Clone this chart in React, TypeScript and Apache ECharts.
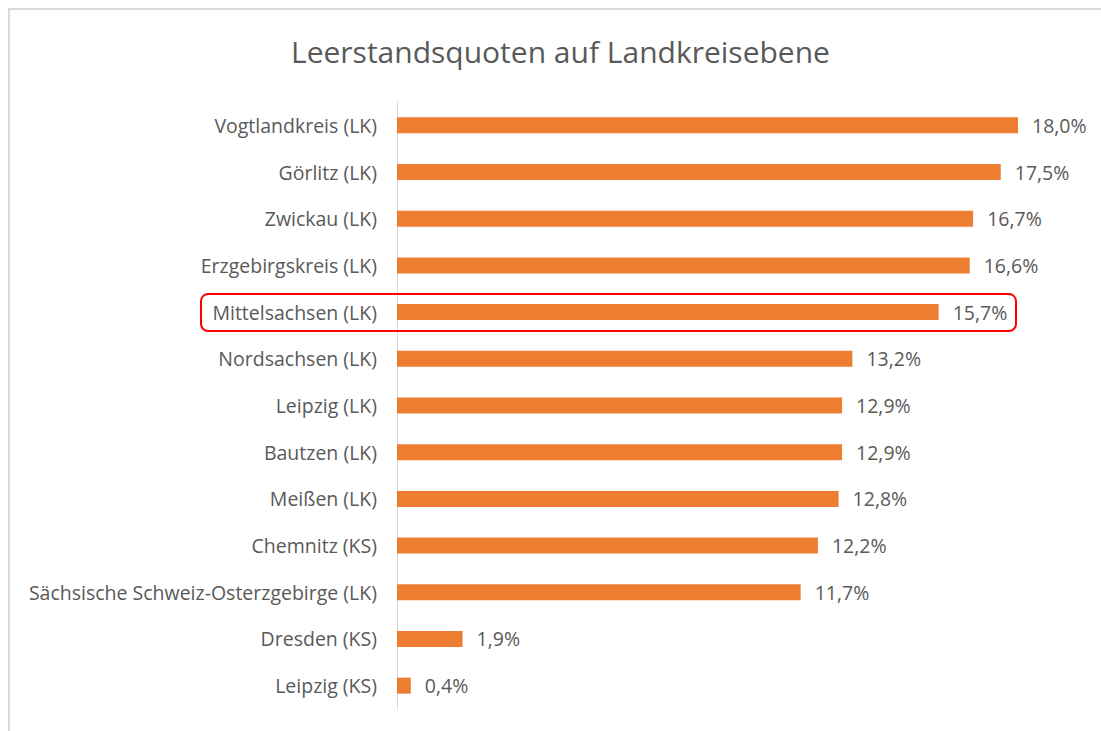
import React, { useEffect, useRef } from "react";
import * as echarts from "echarts";

const categories = [
  "Vogtlandkreis (LK)",
  "Görlitz (LK)",
  "Zwickau (LK)",
  "Erzgebirgskreis (LK)",
  "Mittelsachsen (LK)",
  "Nordsachsen (LK)",
  "Leipzig (LK)",
  "Bautzen (LK)",
  "Meißen (LK)",
  "Chemnitz (KS)",
  "Sächsische Schweiz-Osterzgebirge (LK)",
  "Dresden (KS)",
  "Leipzig (KS)",
];
const values = [18.0, 17.5, 16.7, 16.6, 15.7, 13.2, 12.9, 12.9, 12.8, 12.2, 11.7, 1.9, 0.4];
const highlighted = "Mittelsachsen (LK)";
const title = "Leerstandsquoten auf Landkreisebene";

const FONT = "Open Sans";
const TEXT = "#595959";

export default function App() {
  const ref = useRef<HTMLDivElement>(null);
  useEffect(() => {
    if (!ref.current) return;
    const chart = echarts.init(ref.current, null, { renderer: "svg" });
    chart.setOption({
      animation: false,
      backgroundColor: "#ffffff",
      title: {
        text: title,
        left: 286,
        top: 31,
        textStyle: { fontFamily: FONT, fontSize: 30, fontWeight: "normal", color: TEXT },
      },
      grid: { left: 397, right: 83, top: 102, bottom: 22, containLabel: false },
      xAxis: {
        type: "value",
        min: 0,
        max: 18,
        show: false,
      },
      yAxis: {
        type: "category",
        data: categories,
        inverse: true,
        axisLine: { show: true, lineStyle: { color: "#d9d9d9", width: 1 } },
        axisTick: { show: false },
        axisLabel: { fontFamily: FONT, fontSize: 19.5, color: TEXT, margin: 20 },
      },
      series: [
        {
          type: "bar",
          data: values,
          barWidth: 16,
          itemStyle: { color: "#ED7D31" },
          label: {
            show: true,
            position: "right",
            distance: 14,
            fontFamily: FONT,
            fontSize: 19.5,
            color: TEXT,
            formatter: (p: any) => p.value.toFixed(1).replace(".", ",") + "%",
          },
        },
      ],
    });
    const y = chart.convertToPixel({ yAxisIndex: 0 }, highlighted) as number;
    chart.setOption({
      graphic: [
        {
          type: "rect",
          shape: { x: 9, y: 9, width: 1200, height: 1000 },
          style: { fill: "none", stroke: "#d9d9d9", lineWidth: 2 },
          silent: true,
        },
        {
          type: "rect",
          shape: { x: 201, y: y - 18, width: 815, height: 37, r: 7 },
          style: { fill: "none", stroke: "#ff0000", lineWidth: 2 },
          silent: true,
          z: 10,
        },
      ],
    });
    return () => chart.dispose();
  }, []);
  return (
    <div
      ref={ref}
      style={{ position: "fixed", left: 0, top: 0, width: 1101, height: 731 }}
    />
  );
}
